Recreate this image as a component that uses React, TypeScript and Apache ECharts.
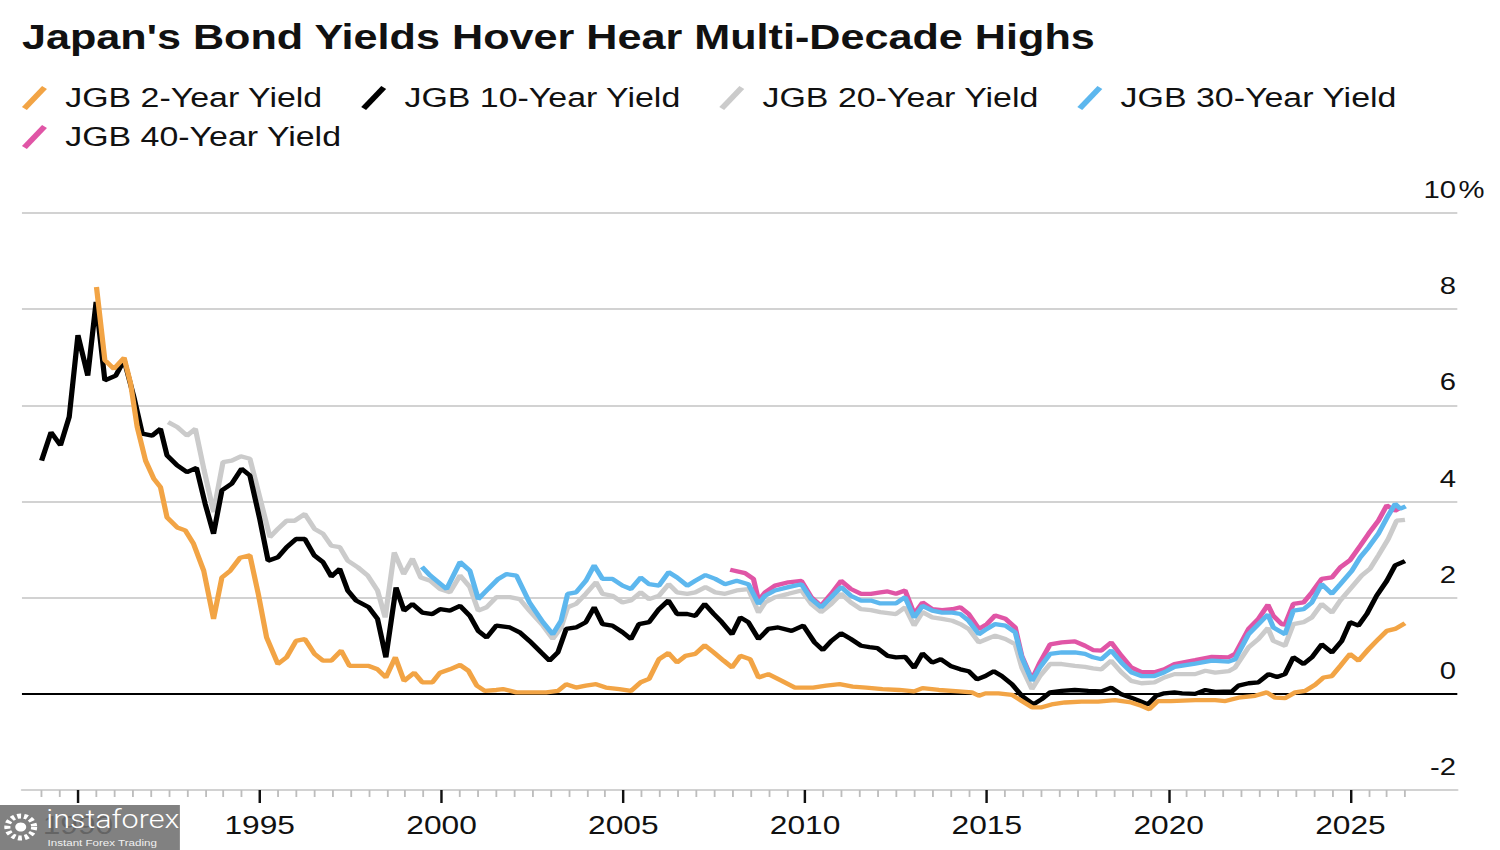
import React, { useEffect, useRef } from "react";
import * as echarts from "echarts";

// ---------- data ----------
const TITLE = "Japan's Bond Yields Hover Hear Multi-Decade Highs";
const NAME_2Y = "JGB 2-Year Yield";
const NAME_10Y = "JGB 10-Year Yield";
const NAME_20Y = "JGB 20-Year Yield";
const NAME_30Y = "JGB 30-Year Yield";
const NAME_40Y = "JGB 40-Year Yield";
const LEGEND_ROW1 = [NAME_2Y, NAME_10Y, NAME_20Y, NAME_30Y];
const LEGEND_ROW2 = [NAME_40Y];

const X_LABEL_YEARS = [1990, 1995, 2000, 2005, 2010, 2015, 2020, 2025];
const Y_MIN = -2;
const Y_MAX = 10;
const Y_STEP = 2;

const YEARS_2Y = [1990.51,1990.74,1990.99,1991.27,1991.45,1991.63,1991.86,1992.09,1992.27,1992.45,
1992.73,1992.95,1993.18,1993.46,1993.73,1993.96,1994.19,1994.46,1994.73,1994.96,
1995.19,1995.5,1995.74,1996.0,1996.24,1996.51,1996.74,1996.97,1997.24,1997.47,
1997.74,1998.0,1998.24,1998.47,1998.73,1998.97,1999.25,1999.47,1999.75,1999.96,
2000.23,2000.51,2000.74,2000.97,2001.19,2001.51,2001.69,2002.06,2002.42,2002.88,
2003.2,2003.43,2003.7,2003.97,2004.25,2004.52,2004.89,2005.21,2005.48,2005.71,
2005.98,2006.24,2006.48,2006.71,2006.98,2007.24,2007.49,2007.76,2007.99,2008.22,
2008.49,2008.72,2008.99,2009.36,2009.72,2010.22,2010.58,2010.95,2011.31,2011.68,
2012.13,2012.59,2013.0,2013.23,2013.68,2014.23,2014.59,2014.78,2014.96,2015.32,
2015.69,2015.96,2016.24,2016.51,2016.78,2017.15,2017.6,2018.06,2018.52,2018.97,
2019.25,2019.47,2019.7,2020.06,2020.73,2021.28,2021.56,2021.92,2022.38,2022.7,
2022.93,2023.2,2023.48,2023.75,2024.03,2024.26,2024.49,2024.72,2024.99,2025.22,
2025.5,2025.77,2026.0,2026.23,2026.5];
const YIELD_2Y = [8.46,6.94,6.76,6.99,6.45,5.55,4.85,4.47,4.30,3.67,
3.46,3.40,3.12,2.56,1.56,2.42,2.56,2.83,2.88,2.08,
1.17,0.62,0.76,1.10,1.14,0.83,0.69,0.69,0.90,0.58,
0.58,0.58,0.51,0.34,0.76,0.27,0.44,0.24,0.24,0.44,
0.51,0.60,0.48,0.17,0.06,0.08,0.10,0.03,0.03,0.03,
0.06,0.20,0.13,0.17,0.20,0.13,0.10,0.06,0.24,0.31,
0.72,0.85,0.65,0.79,0.83,1.01,0.86,0.69,0.55,0.79,
0.72,0.34,0.41,0.27,0.13,0.13,0.17,0.20,0.15,0.13,
0.10,0.08,0.05,0.12,0.08,0.05,0.03,-0.04,0.01,0.01,
-0.02,-0.15,-0.28,-0.28,-0.22,-0.18,-0.16,-0.16,-0.13,-0.18,
-0.25,-0.32,-0.15,-0.15,-0.13,-0.13,-0.15,-0.08,-0.04,0.03,
-0.08,-0.09,0.03,0.06,0.19,0.34,0.37,0.58,0.83,0.69,
0.93,1.14,1.31,1.35,1.47];

const YEARS_10Y = [1989.0,1989.26,1989.52,1989.76,1990.0,1990.27,1990.5,1990.74,1991.04,1991.27,
1991.54,1991.77,1992.04,1992.27,1992.45,1992.73,1993.0,1993.26,1993.5,1993.73,
1993.96,1994.23,1994.5,1994.73,1995.0,1995.23,1995.5,1995.74,1996.0,1996.24,
1996.5,1996.74,1996.97,1997.2,1997.42,1997.65,1998.0,1998.24,1998.47,1998.75,
1998.97,1999.2,1999.47,1999.75,1999.96,2000.23,2000.51,2000.78,2001.01,2001.24,
2001.51,2001.88,2002.15,2002.42,2002.74,2002.97,2003.2,2003.43,2003.7,2003.97,
2004.2,2004.43,2004.7,2004.98,2005.21,2005.43,2005.71,2005.98,2006.24,2006.48,
2006.76,2006.98,2007.24,2007.49,2007.71,2007.99,2008.22,2008.44,2008.72,2008.99,
2009.26,2009.63,2009.95,2010.26,2010.49,2010.72,2010.99,2011.26,2011.54,2011.77,
2011.99,2012.27,2012.5,2012.75,2013.0,2013.23,2013.5,2013.73,2014.0,2014.27,
2014.5,2014.73,2014.96,2015.19,2015.41,2015.69,2015.96,2016.28,2016.51,2016.74,
2017.06,2017.42,2017.79,2018.15,2018.42,2018.7,2018.97,2019.2,2019.43,2019.66,
2019.88,2020.16,2020.37,2020.73,2021.01,2021.28,2021.74,2021.92,2022.2,2022.47,
2022.75,2022.98,2023.2,2023.43,2023.71,2023.94,2024.21,2024.49,2024.76,2024.99,
2025.22,2025.45,2025.72,2026.0,2026.23,2026.5];
const YIELD_10Y = [4.85,5.44,5.17,5.76,7.46,6.62,8.15,6.52,6.62,6.94,
6.17,5.41,5.37,5.51,4.96,4.75,4.61,4.70,3.95,3.33,
4.23,4.37,4.68,4.54,3.64,2.77,2.84,3.05,3.22,3.22,
2.88,2.74,2.44,2.60,2.15,1.94,1.80,1.56,0.76,2.21,
1.73,1.87,1.69,1.66,1.76,1.73,1.83,1.62,1.31,1.17,
1.42,1.38,1.28,1.10,0.86,0.69,0.86,1.35,1.38,1.49,
1.80,1.45,1.42,1.28,1.14,1.45,1.49,1.76,1.94,1.66,
1.66,1.62,1.87,1.66,1.49,1.24,1.59,1.49,1.14,1.35,
1.38,1.31,1.42,1.07,0.91,1.10,1.26,1.14,1.00,0.97,
0.95,0.79,0.76,0.77,0.54,0.84,0.65,0.72,0.58,0.51,
0.47,0.30,0.37,0.47,0.37,0.20,-0.04,-0.22,-0.11,0.03,
0.06,0.08,0.06,0.05,0.13,-0.01,-0.08,-0.15,-0.22,-0.04,
0.01,0.03,0.01,0.00,0.08,0.04,0.05,0.17,0.22,0.24,
0.41,0.35,0.41,0.76,0.62,0.76,1.03,0.86,1.10,1.49,
1.42,1.66,2.04,2.35,2.67,2.76];

const YEARS_20Y = [1992.48,1992.73,1993.0,1993.23,1993.47,1993.73,1993.99,1994.23,1994.48,1994.73,
1995.0,1995.28,1995.5,1995.74,1995.96,1996.24,1996.51,1996.74,1996.97,1997.2,
1997.42,1997.7,1997.97,1998.24,1998.45,1998.7,1998.96,1999.2,1999.43,1999.69,
1999.96,2000.23,2000.51,2000.78,2001.01,2001.24,2001.51,2001.88,2002.15,2002.42,
2002.79,2003.06,2003.29,2003.47,2003.7,2003.97,2004.25,2004.43,2004.7,2004.98,
2005.21,2005.48,2005.71,2005.98,2006.25,2006.48,2006.76,2006.98,2007.26,2007.53,
2007.8,2008.12,2008.44,2008.72,2008.9,2009.17,2009.54,2009.9,2010.17,2010.44,
2010.72,2010.99,2011.26,2011.54,2011.81,2012.07,2012.5,2012.75,2013.0,2013.23,
2013.5,2013.77,2014.05,2014.27,2014.5,2014.78,2015.0,2015.23,2015.51,2015.78,
2015.96,2016.24,2016.46,2016.74,2017.06,2017.42,2017.7,2017.92,2018.15,2018.42,
2018.7,2018.97,2019.25,2019.61,2019.88,2020.16,2020.73,2021.01,2021.28,2021.65,
2021.83,2022.2,2022.47,2022.73,2022.88,2023.2,2023.43,2023.71,2023.94,2024.21,
2024.49,2024.72,2025.04,2025.31,2025.54,2025.77,2026.04,2026.27,2026.5];
const YIELD_20Y = [5.65,5.55,5.37,5.51,4.65,3.78,4.82,4.85,4.94,4.89,
4.09,3.26,3.43,3.60,3.60,3.74,3.43,3.33,3.08,3.05,
2.77,2.63,2.46,2.15,1.59,2.94,2.49,2.81,2.42,2.35,
2.18,2.11,2.46,2.22,1.73,1.80,2.01,2.01,1.97,1.73,
1.42,1.14,1.38,1.80,1.87,2.08,2.32,2.08,2.04,1.90,
1.94,2.11,1.97,2.04,2.28,2.11,2.08,2.11,2.22,2.11,
2.08,2.15,2.18,1.69,1.90,2.01,2.08,2.15,1.87,1.70,
1.87,2.08,1.90,1.76,1.74,1.70,1.66,1.80,1.42,1.70,
1.59,1.56,1.52,1.45,1.35,1.07,1.14,1.21,1.14,1.03,
0.55,0.10,0.37,0.62,0.62,0.58,0.56,0.53,0.51,0.69,
0.45,0.27,0.22,0.24,0.34,0.41,0.41,0.48,0.44,0.47,
0.55,0.97,1.14,1.37,1.10,1.00,1.45,1.49,1.59,1.87,
1.69,1.94,2.22,2.46,2.60,2.88,3.22,3.60,3.62];

const YEARS_30Y = [1999.46,1999.69,2000.14,2000.51,2000.78,2001.01,2001.28,2001.56,2001.79,2002.06,
2002.42,2002.79,2003.06,2003.29,2003.47,2003.7,2003.97,2004.2,2004.43,2004.7,
2004.98,2005.21,2005.48,2005.71,2005.98,2006.25,2006.48,2006.76,2006.98,2007.26,
2007.53,2007.8,2008.12,2008.44,2008.72,2008.9,2009.17,2009.54,2009.9,2010.17,
2010.44,2010.72,2010.99,2011.26,2011.54,2011.81,2012.07,2012.5,2012.75,2013.0,
2013.23,2013.5,2013.77,2014.05,2014.27,2014.5,2014.78,2015.0,2015.23,2015.51,
2015.78,2015.96,2016.24,2016.46,2016.74,2017.06,2017.42,2017.7,2017.92,2018.15,
2018.42,2018.7,2018.97,2019.25,2019.61,2019.88,2020.16,2020.73,2021.19,2021.65,
2021.83,2022.2,2022.47,2022.73,2022.88,2023.2,2023.43,2023.71,2023.94,2024.21,
2024.49,2024.72,2025.04,2025.27,2025.5,2025.77,2026.04,2026.23,2026.37,2026.52];
const YIELD_30Y = [2.64,2.46,2.18,2.74,2.56,1.97,2.18,2.39,2.49,2.46,
1.90,1.49,1.24,1.52,2.08,2.11,2.35,2.67,2.39,2.39,
2.25,2.18,2.42,2.28,2.25,2.53,2.42,2.25,2.35,2.47,
2.39,2.28,2.35,2.28,1.87,2.04,2.15,2.22,2.28,1.97,
1.80,2.01,2.22,2.04,1.94,1.94,1.88,1.88,2.01,1.59,
1.83,1.73,1.69,1.69,1.66,1.52,1.24,1.35,1.45,1.42,
1.28,0.76,0.27,0.55,0.83,0.86,0.86,0.83,0.76,0.72,
0.90,0.65,0.45,0.37,0.37,0.45,0.56,0.63,0.69,0.67,
0.72,1.24,1.45,1.65,1.38,1.24,1.73,1.76,1.90,2.28,
2.08,2.28,2.56,2.84,3.05,3.33,3.71,3.95,3.85,3.90];

const YEARS_40Y = [2007.94,2008.35,2008.58,2008.72,2008.9,2009.17,2009.54,2009.9,2010.17,2010.44,
2010.72,2010.99,2011.26,2011.54,2011.81,2012.07,2012.27,2012.5,2012.75,2013.0,
2013.23,2013.5,2013.77,2014.05,2014.27,2014.5,2014.78,2015.0,2015.23,2015.51,
2015.78,2015.96,2016.24,2016.46,2016.74,2017.06,2017.42,2017.7,2017.92,2018.15,
2018.42,2018.7,2018.97,2019.25,2019.61,2019.88,2020.16,2020.73,2021.19,2021.65,
2021.83,2022.2,2022.47,2022.73,2022.88,2023.11,2023.2,2023.43,2023.71,2023.94,
2024.21,2024.49,2024.72,2024.99,2025.27,2025.5,2025.77,2026.0,2026.23,2026.4];
const YIELD_40Y = [2.58,2.51,2.39,1.94,2.11,2.25,2.32,2.35,2.01,1.83,
2.08,2.35,2.18,2.08,2.08,2.11,2.13,2.08,2.15,1.66,
1.90,1.76,1.74,1.76,1.80,1.66,1.35,1.45,1.63,1.56,
1.38,0.79,0.30,0.65,1.03,1.07,1.09,1.00,0.91,0.90,
1.07,0.79,0.55,0.45,0.45,0.51,0.62,0.70,0.77,0.76,
0.83,1.35,1.56,1.85,1.62,1.45,1.44,1.87,1.90,2.11,
2.39,2.42,2.63,2.78,3.08,3.33,3.60,3.92,3.81,3.88];

// ---------- styling ----------
const FONT = "'Liberation Sans', Arial, Helvetica, sans-serif";
const C_2Y = "#F2A445";
const C_10Y = "#000000";
const C_20Y = "#CBCBCB";
const C_30Y = "#5DB7EE";
const C_40Y = "#E055A6";
const GRID_GRAY = "#D2D2D2";

// the reference is drawn horizontally stretched; draw in a narrower box and stretch it
const OUT_W = 1500;
const OUT_H = 850;
const CHART_W = 1230;
const STRETCH = OUT_W / CHART_W;

const X_MIN = 1988.46;
const X_MAX = 2027.94;

const LEGEND_ICON = "path://M0,21 L16.5,0 L20.5,3 L4,24 Z";

function zip(xs: number[], ys: number[]) {
  const n = Math.min(xs.length, ys.length);
  const out: number[][] = [];
  for (let i = 0; i < n; i++) out.push([xs[i], ys[i]]);
  return out;
}

function halfYearTicks(): number[] {
  const out: number[] = [];
  for (let k = 1989 * 2; k <= 2026.5 * 2; k++) {
    const v = k / 2;
    if (v % 5 !== 0) out.push(v);
  }
  return out;
}

function lineSeries(name: string, color: string, xs: number[], ys: number[]) {
  return {
    name,
    type: "line",
    data: zip(xs, ys),
    showSymbol: false,
    symbol: "none",
    silent: true,
    color,
    itemStyle: { color },
    lineStyle: { color, width: 4.3 },
    emphasis: { disabled: true },
  };
}

function legendOption(data: string[], top: number) {
  return {
    data,
    left: 18,
    top,
    padding: 0,
    orient: "horizontal",
    icon: LEGEND_ICON,
    itemWidth: 20.5,
    itemHeight: 24,
    itemGap: 31.5,
    selectedMode: false,
    formatter: (n: string) => `{t|${n}}`,
    textStyle: {
      fontFamily: FONT,
      fontSize: 27.8,
      color: "#111",
      rich: { t: { fontFamily: FONT, fontSize: 27.8, color: "#111", padding: [0, 0, 0, 10] } },
    },
  };
}

export default function App() {
  const ref = useRef<HTMLDivElement>(null);

  useEffect(() => {
    if (!ref.current) return;
    const chart = echarts.init(ref.current, null, { renderer: "svg" });

    const splitColors = [GRID_GRAY, "#000000", GRID_GRAY, GRID_GRAY, GRID_GRAY, GRID_GRAY, GRID_GRAY];

    const option: any = {
      animation: false,
      backgroundColor: "#ffffff",
      textStyle: { fontFamily: FONT },
      title: {
        text: TITLE,
        left: 18,
        top: 19,
        padding: 0,
        textStyle: { fontFamily: FONT, fontSize: 35.4, fontWeight: "bold", color: "#111" },
      },
      legend: [legendOption(LEGEND_ROW1, 84), legendOption(LEGEND_ROW2, 123)],
      grid: { left: 18, right: CHART_W - 1195, top: 213, bottom: 60, containLabel: false, outerBoundsMode: "none" },
      xAxis: [
        {
          type: "value",
          min: X_MIN,
          max: X_MAX,
          position: "bottom",
          axisLine: { show: true, onZero: false, lineStyle: { color: GRID_GRAY, width: 2 } },
          axisTick: { show: true, customValues: X_LABEL_YEARS, length: 13, lineStyle: { color: "#111", width: 2 } },
          axisLabel: {
            customValues: X_LABEL_YEARS,
            margin: 22,
            fontFamily: FONT,
            fontSize: 26,
            color: "#111",
            formatter: (v: number) => String(Math.round(v)),
          },
          splitLine: { show: false },
        },
        {
          type: "value",
          min: X_MIN,
          max: X_MAX,
          position: "bottom",
          axisLine: { show: false, onZero: false },
          axisTick: { show: true, customValues: halfYearTicks(), length: 7, lineStyle: { color: "#BDBDBD", width: 1.5 } },
          axisLabel: { show: false },
          splitLine: { show: false },
        },
      ],
      yAxis: {
        type: "value",
        position: "right",
        min: Y_MIN,
        max: Y_MAX,
        interval: Y_STEP,
        axisLine: { show: false },
        axisTick: { show: false },
        axisLabel: {
          inside: true,
          margin: 1,
          verticalAlign: "bottom",
          padding: [0, 0, 11, 0],
          fontFamily: FONT,
          fontSize: 24,
          color: "#111",
          showMinLabel: true,
          showMaxLabel: true,
          formatter: (v: number) => String(v),
        },
        splitLine: { show: true, lineStyle: { color: splitColors, width: 2 } },
      },
      series: [
        lineSeries(NAME_20Y, C_20Y, YEARS_20Y, YIELD_20Y),
        lineSeries(NAME_40Y, C_40Y, YEARS_40Y, YIELD_40Y),
        lineSeries(NAME_30Y, C_30Y, YEARS_30Y, YIELD_30Y),
        lineSeries(NAME_10Y, C_10Y, YEARS_10Y, YIELD_10Y),
        lineSeries(NAME_2Y, C_2Y, YEARS_2Y, YIELD_2Y),
      ],
      graphic: [
        {
          type: "text",
          x: 1196,
          y: 202,
          z: 10,
          silent: true,
          style: {
            text: "%",
            fontFamily: FONT,
            fontSize: 24,
            fill: "#111",
            align: "left",
            verticalAlign: "bottom",
            textAlign: "left",
            textVerticalAlign: "bottom",
          },
        },
        {
          type: "group",
          x: 0,
          y: 805,
          z: 100,
          silent: true,
          children: [
            { type: "rect", shape: { x: 0, y: 0, width: 147.5, height: 45 }, style: { fill: "rgba(112,112,112,0.88)" }, z: 100 },
            { type: "circle", shape: { cx: 17, cy: 22, r: 11 }, style: { fill: "none", stroke: "#fff", lineWidth: 5, lineDash: [3, 2.4] }, z: 101 },
            { type: "circle", shape: { cx: 17, cy: 22, r: 4.5 }, style: { fill: "#fff" }, z: 101 },
            {
              type: "text", x: 38, y: 27, z: 101,
              style: { text: "instaforex", fontFamily: "Roboto, sans-serif", fontWeight: 300, fontSize: 25, fill: "#fff", align: "left", verticalAlign: "bottom", textAlign: "left", textVerticalAlign: "bottom" },
            },
            {
              type: "text", x: 39, y: 42, z: 101,
              style: { text: "Instant Forex Trading", fontFamily: FONT, fontSize: 9.5, fill: "#f0f0f0", align: "left", verticalAlign: "bottom", textAlign: "left", textVerticalAlign: "bottom" },
            },
          ],
        },
      ],
    };

    chart.setOption(option);
    return () => chart.dispose();
  }, []);

  return (
    <div style={{ position: "fixed", left: 0, top: 0, width: OUT_W, height: OUT_H, overflow: "hidden", background: "#fff" }}>
      <div
        ref={ref}
        style={{ width: CHART_W, height: OUT_H, transform: `scaleX(${STRETCH})`, transformOrigin: "0 0" }}
      />
    </div>
  );
}
